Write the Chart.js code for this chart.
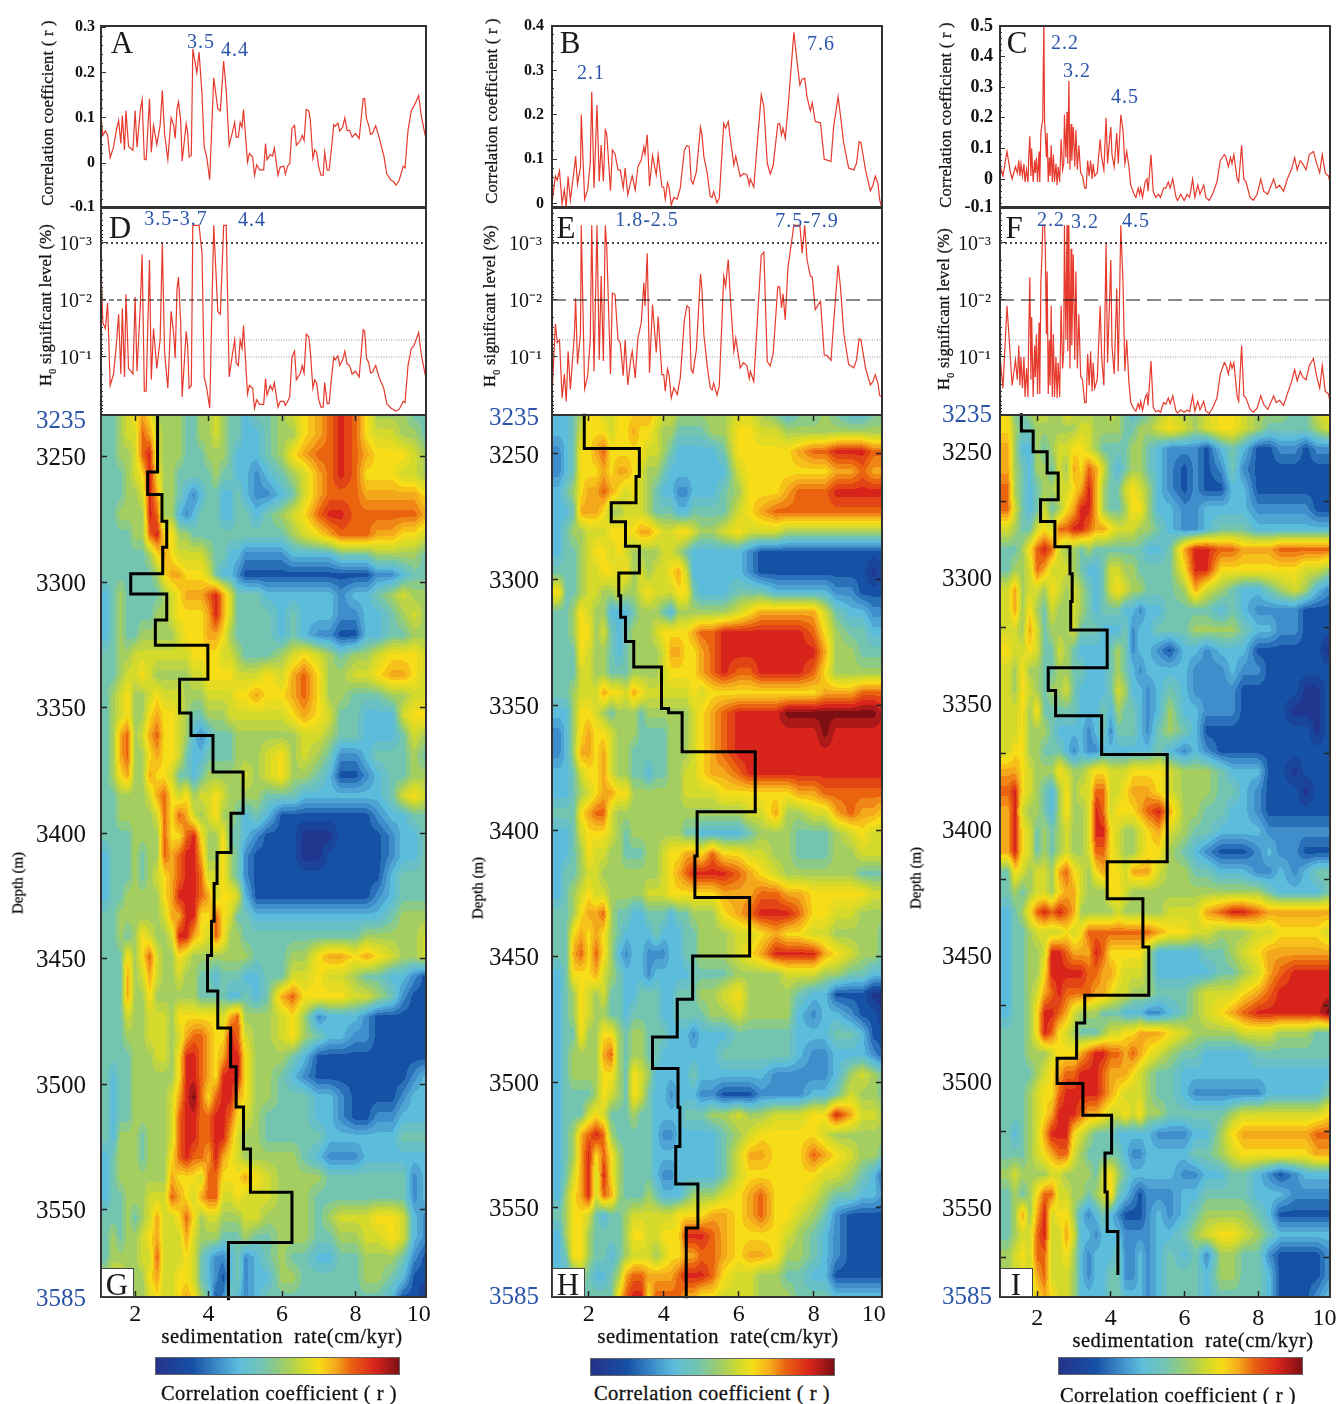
<!DOCTYPE html>
<html><head><meta charset="utf-8">
<script src="https://cdn.jsdelivr.net/npm/chart.js@4"></script>
<style>
html,body{margin:0;padding:0;background:#fff;width:1337px;height:1404px;overflow:hidden;font-family:'Liberation Serif',serif;color:#111}
canvas{position:absolute}
.t{position:absolute;white-space:pre;line-height:1;transform:translate(-50%,-50%);z-index:5}
.v{transform:translate(-50%,-50%) rotate(-90deg)}
.blue{color:#2b55a8;font-size:20px;letter-spacing:1px}
.let{font-size:31px;color:#1a1a1a}
.box{position:absolute;background:#fff;border:1px solid #444;box-sizing:border-box;z-index:4}
.bar{position:absolute;height:18px;box-sizing:border-box;border:1px solid #666;z-index:4;
background:linear-gradient(90deg,#25328a 0%,#1650a5 15%,#3f8fcb 26%,#5cbcdb 34%,#74c5b0 44%,#a4ce60 54%,#d3da2b 61%,#f7dc18 67%,#f4a81c 74%,#ea6410 80%,#d9241c 90%,#7d0f14 100%)}
</style></head><body>
<script>
// ---------- line panels: sedimentation rate (cm/kyr), correlation r, log10(H0 significance) ----------
const rateA=[1.07,1.12,1.19,1.25,1.32,1.41,1.48,1.55,1.61,1.65,1.71,1.75,1.82,1.94,2.0,2.05,2.14,2.19,2.25,2.30,2.39,2.44,2.5,2.59,2.68,2.74,2.8,2.89,2.98,3.05,3.09,3.14,3.18,3.24,3.28,3.39,3.43,3.47,3.53,3.57,3.68,3.74,3.82,3.88,3.95,4.03,4.14,4.25,4.32,4.41,4.48,4.56,4.65,4.71,4.75,4.81,4.86,4.91,4.95,5.06,5.11,5.2,5.25,5.31,5.39,5.5,5.55,5.59,5.68,5.74,5.79,5.89,5.95,6.05,6.09,6.15,6.21,6.27,6.34,6.39,6.5,6.55,6.6,6.66,6.73,6.77,6.84,6.89,6.94,7.0,7.06,7.12,7.16,7.23,7.28,7.35,7.41,7.45,7.52,7.57,7.65,7.71,7.77,7.84,7.91,8.0,8.1,8.21,8.25,8.3,8.36,8.41,8.46,8.55,8.64,8.77,8.85,8.97,9.05,9.1,9.19,9.3,9.35,9.43,9.52,9.59,9.72,9.79,9.91];
const corrA=[.105,.061,.071,.061,.012,.035,.068,.094,.043,.105,.029,.116,.037,.028,.116,.035,.116,.14,.008,.007,.142,.024,.083,.041,.083,.16,.065,.008,.1,.083,.054,.12,.135,.094,.004,.087,.068,.013,.017,.252,.199,.245,.153,.035,.013,-.037,.188,.12,.115,.225,.16,.039,.068,.09,.057,.057,.09,.079,.118,.002,.021,.013,-.027,-.004,-.015,-.015,.043,.007,.019,.015,.033,-.027,-.009,-.007,-.025,-.007,-.001,.076,.083,.039,.05,.061,.05,.118,.115,.094,.01,.029,.024,-.009,-.027,-.027,.024,-.016,-.016,.035,.085,.081,.088,.071,.079,.1,.072,.072,.057,.065,.054,.142,.142,.098,.083,.063,.065,.082,.057,.017,-.024,-.038,-.042,-.049,-.038,-.007,-.011,.072,.116,.125,.149,.105,.056];
const logPD=[-2.59,-1.6,-1.5,-1.95,-.5,-.7,-1.15,-1.75,-.7,-1.85,-.65,-2.1,-.8,-.7,-2.05,-.75,-1.9,-2.8,-.4,-.4,-2.7,-.6,-1.5,-.8,-1.3,-3,-1.1,-.45,-1.8,-1.4,-.98,-2.2,-2.4,-1.6,-.3,-1.45,-1.2,-.45,-.5,-3.31,-3.31,-3.31,-2.82,-.65,-.45,-.1,-3.31,-1.8,-1.75,-3.31,-3.31,-.65,-1.05,-1.3,-.9,-.85,-1.3,-1.15,-1.55,-.35,-.5,-.45,-.1,-.25,-.17,-.17,-.62,-.33,-.5,-.42,-.55,-.12,-.22,-.22,-.15,-.22,-.3,-1,-1.1,-.6,-.72,-.85,-.72,-1.4,-1.35,-1.1,-.45,-.6,-.55,-.25,-.12,-.12,-.55,-.18,-.18,-.65,-1,-.95,-1.02,-.85,-.95,-1.1,-.88,-.85,-.7,-.75,-.65,-1.48,-1.45,-.98,-.9,-.72,-.73,-.85,-.65,-.45,-.18,-.1,-.07,-.05,-.08,-.22,-.2,-.85,-1.15,-1.2,-1.43,-1.05,-.65];

const rateB=[1.02,1.11,1.16,1.22,1.29,1.35,1.4,1.45,1.51,1.62,1.65,1.7,1.78,1.8,1.89,1.97,2.04,2.08,2.14,2.22,2.28,2.33,2.39,2.44,2.48,2.58,2.63,2.7,2.78,2.84,2.92,2.97,3.04,3.13,3.16,3.24,3.31,3.4,3.47,3.5,3.56,3.62,3.7,3.8,3.85,3.95,4.0,4.04,4.1,4.14,4.2,4.27,4.36,4.44,4.55,4.62,4.68,4.73,4.78,4.87,4.98,5.02,5.07,5.16,5.24,5.29,5.33,5.42,5.48,5.6,5.65,5.72,5.78,5.87,5.92,6.04,6.13,6.22,6.28,6.31,6.4,6.6,6.67,6.76,6.84,6.92,7.04,7.09,7.14,7.18,7.24,7.31,7.47,7.56,7.63,7.69,7.76,7.82,7.91,7.96,8.04,8.18,8.28,8.36,8.46,8.53,8.65,8.71,8.8,8.93,9.07,9.14,9.21,9.26,9.38,9.51,9.58,9.64,9.71,9.76,9.8];
const corrB=[0,.062,.053,.074,0,.031,-.007,.061,.008,.083,.107,.044,.083,.201,.01,.031,.091,.252,.035,.222,.05,.132,.05,.166,.157,.029,.121,.112,.076,.076,.035,.08,.02,.053,.062,.031,.083,.098,.128,.112,.155,.04,.108,.065,.11,.038,.037,.01,.047,.038,-.003,.014,.01,.035,.121,.131,.128,.053,.044,.072,.172,.155,.106,.068,.016,.014,.027,.002,.012,.181,.17,.185,.143,.087,.107,.061,.068,.065,.042,.056,.037,.245,.218,.091,.067,.087,.179,.181,.155,.17,.147,.211,.386,.316,.267,.28,.282,.241,.209,.227,.185,.182,.1,.098,.095,.173,.241,.2,.136,.08,.076,.091,.14,.137,.076,.029,.042,.062,.046,.008,-.005];
const logPE=[-.31,-1.58,-1.25,-1.3,-.28,-.7,-.22,-1.1,-.43,-1.42,-2.03,-.87,-1.42,-3.31,-.44,-.66,-1.3,-3.31,-.75,-3.31,-.95,-2.42,-.93,-3.31,-2.94,-.7,-2.12,-2.1,-1.3,-1.25,-.67,-1.3,-.51,-1,-1.1,-.63,-1.33,-1.6,-2.3,-1.89,-2.82,-.72,-1.92,-1.08,-1.71,-.69,-.69,-.4,-.79,-.69,-.28,-.46,-.34,-.63,-1.65,-1.9,-1.86,-.78,-.72,-1.13,-2.46,-2.18,-1.39,-.84,-.46,-.42,-.54,-.33,-.49,-2.42,-2.24,-2.71,-2,-1.1,-1.33,-.81,-.9,-.84,-.62,-.75,-.57,-2.79,-2.84,-.92,-.84,-1.07,-2.23,-2.23,-1.86,-2.11,-1.65,-2.56,-3.31,-3.31,-3.31,-2.82,-3.31,-2.71,-2.42,-2.4,-1.83,-1.98,-1.04,-1.02,-.94,-1.6,-2.61,-2.24,-1.42,-.87,-.81,-.95,-1.32,-1.3,-.81,-.51,-.57,-.69,-.54,-.32,-.31];

const rateC=[1,1.07,1.18,1.26,1.32,1.41,1.46,1.5,1.53,1.56,1.6,1.64,1.67,1.71,1.75,1.77,1.8,1.83,1.85,1.89,1.93,1.95,1.98,2.01,2.05,2.07,2.1,2.13,2.15,2.18,2.2,2.22,2.25,2.27,2.3,2.33,2.35,2.38,2.41,2.44,2.47,2.51,2.54,2.57,2.61,2.65,2.69,2.72,2.74,2.78,2.81,2.83,2.86,2.89,2.92,2.94,2.98,3.02,3.05,3.09,3.13,3.18,3.23,3.29,3.33,3.37,3.41,3.45,3.49,3.52,3.56,3.63,3.71,3.75,3.81,3.87,3.91,3.95,4,4.03,4.09,4.16,4.2,4.27,4.33,4.38,4.43,4.49,4.54,4.63,4.68,4.74,4.78,4.81,4.86,4.93,4.98,5.01,5.09,5.15,5.22,5.29,5.35,5.43,5.49,5.56,5.61,5.68,5.77,5.81,5.9,5.99,6.07,6.14,6.22,6.28,6.36,6.42,6.52,6.58,6.67,6.76,6.88,6.97,7.08,7.13,7.19,7.25,7.29,7.34,7.43,7.47,7.55,7.61,7.67,7.78,7.87,7.97,8.07,8.15,8.26,8.42,8.49,8.58,8.69,8.79,8.9,8.99,9.06,9.14,9.21,9.3,9.39,9.5,9.59,9.67,9.74,9.82,9.91,9.96];
const corrC=[.04,.01,.09,.03,0,.04,.02,.06,.01,.05,.01,.05,-.01,.03,-.01,.07,.14,.01,.1,-.01,.06,.02,.07,-.01,.09,-.01,.15,.18,.19,.52,.19,.15,.07,.15,-.01,.07,.01,.11,-.01,.08,-.01,.05,-.02,.04,-.01,.13,.03,.05,.21,.07,.22,.05,.32,.03,.18,.06,.17,.04,.16,.03,.11,.02,.01,-.03,-.03,.06,.01,.06,0,.05,.01,.02,.13,.07,.03,.2,.05,.11,.17,.08,.04,.15,.05,.21,.16,.05,.09,.04,-.02,-.05,-.06,-.03,-.05,-.03,-.06,-.01,0,-.04,.08,-.04,-.06,-.05,-.06,-.03,-.03,-.01,-.03,0,-.06,-.07,-.05,-.07,-.05,-.06,0,-.06,-.02,-.05,-.02,-.06,-.07,-.05,-.01,.06,.08,.07,.04,.07,.05,.08,0,-.01,.11,0,-.01,-.06,-.07,-.05,0,-.04,-.05,0,-.03,-.02,-.04,0,.03,.07,.03,.06,.05,.03,.08,.09,.05,.02,.08,.02,.01,-.02];
const logPF=[-.95,-.45,-1.9,-1.1,-.5,-.95,-.6,-1.2,-.5,-1,-.45,-1,-.3,-.8,-.3,-1.4,-2.4,-.6,-1.7,-.3,-1.2,-.65,-1.4,-.35,-1.6,-.35,-2.3,-2.8,-3.31,-3.31,-3.31,-2.9,-1.4,-2.5,-.35,-1.3,-.5,-1.9,-.3,-1.4,-.3,-1,-.28,-.9,-.3,-1.9,-.8,-1.1,-3.31,-1.3,-3.31,-1.1,-3.31,-.8,-2.9,-1.2,-2.8,-.95,-2.5,-.8,-1.75,-.65,-.6,-.2,-.2,-1.05,-.5,-1.1,-.4,-.9,-.45,-.6,-1.9,-1,-.5,-3,-.9,-1.7,-2.7,-1.2,-.7,-2.2,-.75,-3.31,-2.3,-.75,-1.3,-.55,-.2,-.08,-.05,-.18,-.1,-.22,-.06,-.28,-.35,-.15,-.93,-.12,-.04,-.06,-.03,-.2,-.17,-.28,-.18,-.32,-.05,-.02,-.07,-.03,-.07,-.04,-.32,-.05,-.22,-.07,-.22,-.05,-.01,-.1,-.28,-.7,-.9,-.85,-.7,-.9,-.8,-.9,-.3,-.22,-1.2,-.32,-.28,-.08,-.03,-.1,-.32,-.17,-.08,-.32,-.2,-.24,-.15,-.35,-.55,-.78,-.58,-.75,-.65,-.6,-.85,-.97,-.65,-.45,-.85,-.4,-.35,-.18];

// ---------- black step curves: rate per interval, interval boundaries in depth (m) ----------
const stepRateG=[2.61,2.34,2.73,2.86,2.75,1.88,2.86,2.55,3.98,3.21,3.52,4.12,4.94,4.61,4.23,4.15,4.08,3.97,4.25,4.6,4.75,4.95,5.14,6.27,4.54];
const stepDepthG=[3233,3256,3265,3275.6,3286,3296.5,3304.6,3315,3325,3338.6,3352,3361,3375.5,3392,3407.6,3420,3435,3448.6,3462.8,3477.5,3493,3509,3525.7,3543,3563,3586];
const stepRateH=[1.88,3.35,3.26,2.6,2.98,3.35,2.8,2.85,2.98,3.2,3.94,4.13,4.49,6.44,4.89,4.83,6.29,4.77,4.36,3.7,4.38,4.43,4.32,4.91,4.6];
const stepDepthH=[3234,3247.8,3259,3269.4,3277,3286.7,3297.4,3306.4,3315,3324.6,3334.8,3351.3,3353,3368.5,3392.4,3410,3426.5,3449.8,3467,3482,3494.6,3510,3525.6,3540.5,3558,3586];
const stepRateI=[1.57,1.89,2.27,2.57,2.09,2.48,2.89,2.95,2.91,3.9,2.3,2.5,3.75,5.53,3.9,4.87,5.03,3.29,3.07,2.54,3.24,4.02,3.84,3.9,4.19];
const stepDepthI=[3235,3242,3250.3,3258.7,3269.3,3278,3288,3298.7,3309.7,3321,3336,3345,3355,3370.4,3413,3427.7,3446.8,3466,3477,3491,3501,3513.6,3528.6,3544,3559.7,3577];

// ---------- heat maps: columns are rates, rows are depths, each character a correlation class 0..b ----------
const heatRates=[1.2,1.4,1.6,1.8,2,2.2,2.4,2.6,2.8,3,3.2,3.4,3.6,3.8,4,4.2,4.4,4.6,4.8,5,5.3,5.6,6,6.3,6.6,7,7.3,7.6,8,8.3,8.6,9,9.3,9.6,9.9];
const heatDepths=[3233,3241,3249,3257,3265,3273,3281,3289,3297,3305,3313,3321,3329,3337,3345,3353,3361,3369,3377,3385,3393,3401,3409,3417,3425,3433,3441,3449,3457,3465,3473,3481,3489,3497,3505,3513,3521,3529,3537,3545,3553,3561,3569,3577,3585];
const heatG=[
"44567 87555 54455 65443 44567 89a97 55544","44566 98655 54455 65443 34557 89a97 66554","44556 9a655 54445 55433 34578 99a98 77765","44456 7a755 44444 54433 23456 89a97 77665","44455 6a855 43234 43343 22346 89998 88887",
"44555 5a955 32344 43344 34567 9aa99 99998","44445 59a77 55444 44444 44456 78999 88776","44444 45787 66665 44332 22233 33444 55554","44444 44578 87776 43321 11111 11111 22344","34544 44456 78889 a8644 43333 33233 45655",
"34544 44556 77778 a8644 44343 33223 34565","34544 55555 67778 87544 44343 22113 34455","44556 66666 66777 76654 44567 65455 67776","44566 76555 55667 77766 67689 75566 78876","45675 56766 65556 66677 87789 75544 45566",
"45675 57877 65445 55666 66678 76443 33677","45895 68977 65323 44455 55556 65443 33465","45895 57877 64334 44455 56756 54223 44454","45785 58776 44345 55556 56755 43112 34455","44555 56897 67566 76555 54443 33333 34676",
"44555 55697 98656 75543 43111 11111 23344","44445 55597 79a75 57443 21110 00111 12334","34445 45598 9aa85 57542 11110 01111 12334","34445 45678 9aa96 67542 11111 11111 13444","34455 55578 aaa98 67763 11111 11111 23444",
"44555 55568 8aa77 97644 33333 33333 34555","44545 76556 aa876 97554 44444 44445 55556","44475 79655 76555 55555 44455 78878 76556","44485 68655 65544 34443 34466 76654 43321","44485 57555 55544 44334 34897 77766 54211",
"44465 56665 77777 76895 55675 23332 11111","44455 56665 68998 77a96 55675 43322 11111","44445 55665 7aa98 78aa7 55543 11111 11111","43445 55555 7aa98 7aaa7 55432 11111 11123","43445 55556 8ab97 9aa87 55444 33211 11233",
"43445 55556 9aa99 aa976 54444 33211 22333","43555 45556 9aa99 aa865 54444 43333 33444","34555 45557 9a998 a8765 55554 32223 33333","34555 55558 77769 97778 76555 54444 44423","34455 56669 87689 96676 66555 44444 44423",
"44454 56866 79756 65556 65555 45666 77632","45455 67866 68655 54445 44555 44556 67632","45555 66966 67643 22342 34544 33445 55421","56655 57866 77643 21342 33554 44445 54311","56655 56766 78754 12432 34444 44444 43110"];
const heatH=[
"33457 76677 78876 65555 55665 43445 43344","33467 77677 87765 54444 55776 65555 55555","23477 89777 77665 43333 34777 77899 aaa99","23477 78788 76554 33333 33677 77777 88988","34578 89876 76543 32233 34577 78999 aaaaa",
"33488 87556 66544 43344 44678 99999 99999","34556 66777 78876 67765 56766 65555 55555","34456 77676 55556 65433 33321 11111 11111","44456 67767 56566 78633 33321 11111 11101","74456 65565 56766 67743 33444 33333 22111",
"44576 55333 45554 35555 55678 88886 43322","44577 56434 55567 77789 9aaaa aaa97 54433","44476 55434 55556 88778 9aaaa aaaa8 55444","44466 55444 55556 77778 9a99a aaa97 55555","44566 68776 87666 66676 77777 77778 88999",
"33577 65455 54555 55567 89aaa abbbb bbbba","23578 77655 54444 55567 89aaa aaaab aaaaa","23588 78655 44444 55567 89aaa aaaaa aaaaa","33467 78655 44344 55667 889aa aaaaa aaaaa","33456 78877 55555 55666 67777 77889 99999",
"44478 99655 55555 55555 55566 85566 89887","33467 77654 55555 55443 33345 55444 56766","33457 66554 44556 77887 97766 55444 55666","34456 65555 55556 789aa aa987 65555 55444","34567 66555 55666 77777 78889 98877 77766",
"44578 89544 33444 34455 5789a aa977 66555","44787 87543 33343 33445 55667 87766 55554","44897 97532 33222 33445 55678 aaaa8 76554","34777 86543 33233 33344 44555 56665 54433","34576 56443 34443 34445 56755 55433 11100",
"34576 55443 44443 34444 55655 55323 32110","34475 57754 55444 33323 33444 44333 44311","34555 58954 55443 33333 34444 44322 33321","34555 57754 76533 33343 33333 22222 35654","34444 57654 76433 23332 21112 22233 46554",
"34446 76444 54433 33444 55655 66677 a8665","34589 a9544 44432 23333 34567 77776 55555","3458a 79754 44433 33333 34688 77798 76554","3468a 6a754 44432 23333 34677 77776 65431","3578a 69854 44543 33455 56789 77765 44332",
"45776 43445 66666 67777 88789 77654 21111","35775 44445 77667 77aaa 98777 76543 21111","34775 44345 66656 77889 98788 75543 21111","33454 33458 99888 89aaa 97665 54433 11111","33444 44479 aa799 99887 76665 55444 33333"];
const heatI=[
"74456 65576 55556 54334 56556 77655 54467","75445 55555 66555 54455 67656 77654 44456","85335 45667 76544 44554 32221 34311 22122","85435 54658 79864 34554 32121 24211 11111","95434 55667 8a854 46765 32121 13311 11111",
"96434 64578 aa854 45775 33223 33322 22211","65446 7699a a9887 66655 43223 44433 33333","44579 a9655 45444 44443 348aa 99888 99999","45569 86665 43346 65544 447aa 77777 77665","68566 57656 54346 76554 44586 54334 56532",
"68575 46556 54344 43323 34444 34322 22111","66586 45556 44433 34233 44455 55433 22111","76676 44654 33334 54233 21332 33311 11110","65755 44554 43334 54323 33322 23221 11111","65765 45564 33334 65332 34322 22111 11001",
"66757 44444 33343 54432 35332 22111 10001","66755 54333 32342 44432 45431 11111 11101","67755 44432 32233 33333 43232 11111 11111","88765 55765 56776 66777 76555 43331 10111","9a765 43575 66996 67888 76555 44321 11011",
"8a655 43575 56a96 77789 a8554 43321 11111","8a764 54565 56aa7 65567 86544 33332 22222","8a764 54565 56997 65567 75432 11123 22111","47656 65897 65787 76888 65544 33322 32344","45456 65788 65557 76555 55555 55554 33334",
"34579 a9a98 55555 65555 56668 9aa98 88888","34456 66676 79999 99999 87766 55566 77776","34455 6aa98 88a97 77775 33334 45678 88888","34455 7aaaa a9988 76665 33333 44568 9aaaa","34456 89a99 99887 66555 44456 66789 aaaaa",
"34457 aa986 55544 43332 23456 789aa aaaab","44457 a9765 44456 67788 87655 55666 55544","44455 56777 89aa9 98987 65443 33344 44444","44445 67899 aaa98 88765 44333 33333 33333","44456 779aa aaa98 76665 44322 22223 33334",
"44456 78aaa 98876 67675 54444 45666 66667","43456 8aaa7 65444 33333 22233 57888 88899","44456 78996 54444 43223 33344 56777 77788","56555 56655 55467 54333 33223 34432 12333","45457 99665 54567 43212 22334 44433 32222",
"45858 a6775 32343 21112 32345 55543 11111","45669 a6686 33233 32222 33456 77654 33333","56769 96675 32333 42232 34342 55442 11112","56668 96665 32334 42232 34443 55443 11112","55667 87665 33334 43332 34443 44443 11123"];

// ---------- tick labels ----------
const depthTicks=[3235,3250,3300,3350,3400,3450,3500,3550,3585];
const rateTicks=[2,4,6,8];
const logLabels={'-3':'10\u207B\u00B3','-2':'10\u207B\u00B2','-1':'10\u207B\u00B9'};

const classColors=[[32,54,143],[21,82,166],[63,141,203],[92,188,219],[116,197,176],[164,206,96],[211,218,43],[247,220,24],[244,168,28],[234,100,16],[217,36,28],[125,15,20]];
const SERIF="'Liberation Serif',serif", RED='#e63a2c', FRAME='#333';

function classColor(v){
  v=Math.max(0,Math.min(11,Math.round(v*2)/2));
  const a=Math.floor(v),b=Math.min(11,a+1),t=v-a;
  return [0,1,2].map(i=>classColors[a][i]*(1-t)+classColors[b][i]*t);
}
function parseGrid(rows){return rows.map(r=>Array.from(r.replace(/ /g,'')).map(c=>parseInt(c,16)));}
function locate(arr,v){
  if(v<=arr[0])return[0,0,0];
  for(let i=0;i<arr.length-1;i++)if(v<=arr[i+1])return[i,i+1,(v-arr[i])/(arr[i+1]-arr[i])];
  return[arr.length-1,arr.length-1,0];
}
function heatPlugin(grid){return{id:'heatField',beforeDatasetsDraw(chart){
  const a=chart.chartArea,xs=chart.scales.x,ys=chart.scales.y;
  const w=Math.round(a.right-a.left),h=Math.round(a.bottom-a.top);
  const off=document.createElement('canvas');off.width=w;off.height=h;
  const c=off.getContext('2d'),im=c.createImageData(w,h);
  const cols=[];for(let i=0;i<w;i++)cols.push(locate(heatRates,xs.getValueForPixel(a.left+i+.5)));
  for(let j=0;j<h;j++){
    const[r0,r1,rt]=locate(heatDepths,ys.getValueForPixel(a.top+j+.5));
    for(let i=0;i<w;i++){
      const[c0,c1,ct]=cols[i];
      const v=(grid[r0][c0]*(1-ct)+grid[r0][c1]*ct)*(1-rt)+(grid[r1][c0]*(1-ct)+grid[r1][c1]*ct)*rt;
      const col=classColor(v),p=4*(j*w+i);
      im.data[p]=col[0];im.data[p+1]=col[1];im.data[p+2]=col[2];im.data[p+3]=255;
    }
  }
  c.putImageData(im,0,0);
  chart.ctx.drawImage(off,a.left,a.top);
}};}

const ML=100,MR=45,MT=45;
function setTicks(list){return s=>{s.ticks=list.map(v=>({value:v}));};}
function frameAxis(o){return Object.assign({type:'linear',border:{display:true,color:FRAME,width:2,z:2},
  grid:{drawOnChartArea:false,drawTicks:false,z:1},ticks:{display:false,autoSkip:false,maxRotation:0,minRotation:0,major:{enabled:false}}},o);}
function fixW(v){return s=>{s.width=v;};}
function fixH(v){return s=>{s.height=v;};}

function makeChart(l,t,r,b,bottomH,scales,datasets,plugins){
  const cv=document.createElement('canvas');
  const W=ML+(r-l)+MR,H=MT+(b-t)+bottomH+(bottomH?0:MT);
  cv.width=W;cv.height=H;cv.style.cssText=`left:${l-ML}px;top:${t-MT}px;width:${W}px;height:${H}px`;
  document.body.appendChild(cv);
  return new Chart(cv,{type:'scatter',data:{datasets},plugins:plugins||[],options:{
    responsive:false,animation:false,devicePixelRatio:1,events:[],
    layout:{padding:{left:0,right:MR,top:MT,bottom:bottomH?0:MT}},
    plugins:{legend:{display:false},tooltip:{enabled:false}},scales}});
}
function zip(xs,ys){return xs.map((x,i)=>({x,y:ys[i]}));}
function curve(xs,ys){return{data:zip(xs,ys),showLine:true,borderColor:RED,borderWidth:1.2,pointRadius:0,tension:0};}
function hline(x0,x1,v,color,width,dash){return{data:[{x:x0,y:v},{x:x1,y:v}],showLine:true,borderColor:color,borderWidth:width,borderDash:dash,pointRadius:0};}

function corrPanel(l,r,x0,x1,rMin,rMax,ticks,minor,fs,pad,xs,ys){
  const neg=ticks[ticks.length-1];
  makeChart(l,26,r,207,0,{
    x:frameAxis({position:'bottom',min:x0,max:x1,afterFit:fixH(0)}),
    xT:frameAxis({position:'top',min:x0,max:x1,afterFit:fixH(0)}),
    yM:frameAxis({position:'left',min:rMin,max:rMax,afterBuildTicks:setTicks(minor),afterFit:fixW(0),
      grid:{drawOnChartArea:false,drawTicks:true,tickLength:-2,tickColor:'#333',tickWidth:1,z:1}}),
    yR:frameAxis({position:'right',min:rMin,max:rMax,afterFit:fixW(0)}),
    y:frameAxis({position:'left',weight:1,min:rMin,max:rMax,afterBuildTicks:setTicks(ticks),afterFit:fixW(ML),
      grid:{drawOnChartArea:false,drawTicks:true,tickLength:-5,tickColor:'#333',tickWidth:1,z:1},
      ticks:{display:true,autoSkip:false,maxRotation:0,minRotation:0,padding:pad+5,color:'#111',font:{family:SERIF,size:fs,weight:'bold'},
        callback:v=>v===0?'0':(v===neg&&v<0?'-0.1':String(Math.round(v*10)/10))}})
  },[curve(xs,ys)]);
}
function sigPanel(l,r,x0,x1,dash,lblPad,xs,ys){
  const lo=-3.614,hi=.018,dec=[-3,-2,-1];
  const minor=[];for(const d of[-4,-3,-2,-1])for(const k of[2,3,4,5,6,7,8,9])minor.push(d+Math.log10(k));
  makeChart(l,208,r,415,0,{
    x:frameAxis({position:'bottom',min:x0,max:x1,afterFit:fixH(0)}),
    xT:frameAxis({position:'top',min:x0,max:x1,afterFit:fixH(0)}),
    yM:frameAxis({position:'left',reverse:true,min:lo,max:hi,afterBuildTicks:setTicks(minor.filter(v=>v>lo&&v<hi)),afterFit:fixW(0),
      grid:{drawOnChartArea:false,drawTicks:true,tickLength:-2,tickColor:'#333',tickWidth:1,z:1}}),
    yR:frameAxis({position:'right',reverse:true,min:lo,max:hi,afterFit:fixW(0)}),
    y:frameAxis({position:'left',weight:1,reverse:true,min:lo,max:hi,afterBuildTicks:setTicks(dec),afterFit:fixW(ML),
      grid:{drawOnChartArea:false,drawTicks:true,tickLength:-5,tickColor:'#333',tickWidth:1,z:1},
      ticks:{display:true,autoSkip:false,maxRotation:0,minRotation:0,padding:lblPad+5,labelOffset:2,color:'#111',font:{family:SERIF,size:20},callback:v=>logLabels[String(v)]}})
  },[hline(x0,x1,-3,'#111',1.6,[2,3]),hline(x0,x1,-2,'#111',1.2,dash),hline(x0,x1,-1.3,'#777',.8,[1,1.5]),hline(x0,x1,-1,'#777',.8,[1,1.5]),curve(xs,ys)]);
}
function heatPanel(l,r,x0,x1,yTop,yBot,marks,labelPad,xTen,xPad,rows,stepRate,stepDepth){
  const grid=parseGrid(rows);
  const cells=[];heatDepths.forEach((d,j)=>heatRates.forEach((x,i)=>cells.push({x,y:d,v:grid[j][i]})));
  const step=[];stepRate.forEach((x,i)=>{step.push({x,y:stepDepth[i]});step.push({x,y:stepDepth[i+1]});});
  const mk=(o)=>frameAxis(Object.assign({reverse:true,min:yTop,max:yBot,afterBuildTicks:setTicks(marks),afterFit:fixW(0),
    grid:{drawOnChartArea:false,drawTicks:true,tickLength:-6,tickColor:'#222',tickWidth:1.5,z:1}},o));
  const xg={drawOnChartArea:false,drawTicks:true,tickLength:-6,tickWidth:1.5,z:1,tickColor:c=>c.tick&&c.tick.value>9?'rgba(0,0,0,0)':'#222'};
  makeChart(l,415,r,1297,50,{
    x:frameAxis({position:'bottom',min:x0,max:x1,afterBuildTicks:setTicks(rateTicks.concat([xTen])),afterFit:fixH(50),grid:xg,
      ticks:{display:true,autoSkip:false,maxRotation:0,minRotation:0,padding:xPad,color:'#111',font:{family:SERIF,size:24},callback:v=>v>9?'10':String(v)}}),
    xT:frameAxis({position:'top',min:x0,max:x1,afterBuildTicks:setTicks(rateTicks),afterFit:fixH(0),grid:xg}),
    yM:mk({position:'left'}),
    yR:mk({position:'right'}),
    y:frameAxis({position:'left',weight:1,reverse:true,min:yTop,max:yBot,afterBuildTicks:setTicks(depthTicks),afterFit:fixW(ML),
      ticks:{display:true,autoSkip:false,maxRotation:0,minRotation:0,padding:labelPad,labelOffset:2,font:{family:SERIF,size:25},
        color:c=>(c.tick.value===3235||c.tick.value===3585)?'#2b55a8':'#111',callback:v=>String(v)}})
  },[{data:step,showLine:true,borderColor:'#000',borderWidth:3,borderJoinStyle:'miter',pointRadius:0,clip:false},
     {data:cells,pointRadius:0,showLine:false}],[heatPlugin(grid)]);
}

const mA=[];for(let v=-.08;v<.301;v+=.02)mA.push(v);
const mB=[];for(let v=0;v<.401;v+=.02)mB.push(v);
const mC=[];for(let v=-.08;v<.501;v+=.02)mC.push(v);
corrPanel(101,426,1.07,9.92,-.0971,.3024,[.3,.2,.1,0,-.0971],mA,16,6,rateA,corrA);
corrPanel(552,882,1.02,9.82,-.0075,.4,[.4,.3,.2,.1,0],mB,16,8,rateB,corrB);
corrPanel(1000,1330,.99,9.95,-.0915,.5,[.5,.4,.3,.2,.1,0,-.0915],mC,18,7,rateC,corrC);
sigPanel(101,426,1.07,9.92,[5,3],9,rateA,logPD);
sigPanel(552,882,1.02,9.82,[14,7],10,rateB,logPE);
sigPanel(1000,1330,.99,9.95,[14,7],9,rateC,logPF);
const mG=[3250,3300,3350,3400,3450,3500,3550];
const mI=[3270,3320,3370,3420,3470,3520,3570];
heatPanel(101,426,1.07,9.92,3233.3,3584.7,mG,15,9.72,9,heatG,stepRateG,stepDepthG);
heatPanel(552,882,1.02,9.82,3234.5,3585.5,mG,13,9.6,9,heatH,stepRateH,stepDepthH);
heatPanel(1000,1330,.99,9.95,3235.7,3585.7,mI,8,9.8,13,heatI,stepRateI,stepDepthI);

// ---------- text annotations ----------
function txt(s,x,y,cls,style){const e=document.createElement('div');e.className='t '+(cls||'');e.innerHTML=s;e.style.left=x+'px';e.style.top=y+'px';if(style)e.style.cssText+=';'+style;document.body.appendChild(e);}
[['A',122,42],['B',570,42],['C',1017,42],['D',120,227],['E',566,227],['F',1014,227],].forEach(a=>txt(a[0],a[1],a[2],'let'));
[[101,'G',117],[552,'H',568],[1000,'I',1016]].forEach(a=>{
  const b=document.createElement('div');b.className='box';b.style.cssText=`left:${a[0]}px;top:1268px;width:33px;height:29px`;document.body.appendChild(b);
  txt(a[1],a[2],1284,'let');
});
[['3.5',201,41],['4.4',235,49],['3.5-3.7',176,218],['4.4',252,219],['2.1',591,72],['7.6',821,43],['1.8-2.5',647,219],['7.5-7.9',807,220],['2.2',1065,42],['3.2',1077,70],['4.5',1125,96],['2.2',1051,219],['3.2',1085,221],['4.5',1136,220]].forEach(a=>txt(a[0],a[1],a[2],'blue'));
const vs='font-size:16.5px;letter-spacing:.25px;-webkit-text-stroke:.3px #111';
[[48,113],[492,111],[946,115]].forEach(p=>txt('Correlation coefficient ( r )',p[0],p[1],'v',vs));
[[48,305],[492,306],[946,309]].forEach(p=>txt('H<sub style="font-size:10px">0</sub> significant level (%)',p[0],p[1],'v',vs));
[[18,883],[478,888],[916,878]].forEach(p=>txt('Depth (m)',p[0],p[1],'v','font-size:15px;-webkit-text-stroke:.3px #111'));
const hs='font-size:20.5px;letter-spacing:.5px;-webkit-text-stroke:.3px #111';
[[282,1336],[718,1336],[1193,1340]].forEach(p=>txt('sedimentation  rate(cm/kyr)',p[0],p[1],'',hs));
[[155,1357],[590,1358],[1058,1357]].forEach(p=>{const b=document.createElement('div');b.className='bar';b.style.left=p[0]+'px';b.style.top=p[1]+'px';b.style.width='245px';document.body.appendChild(b);});
[[279,1393],[712,1393],[1178,1395]].forEach(p=>txt('Correlation coefficient ( r )',p[0],p[1],'',hs));
</script>
</body></html>
